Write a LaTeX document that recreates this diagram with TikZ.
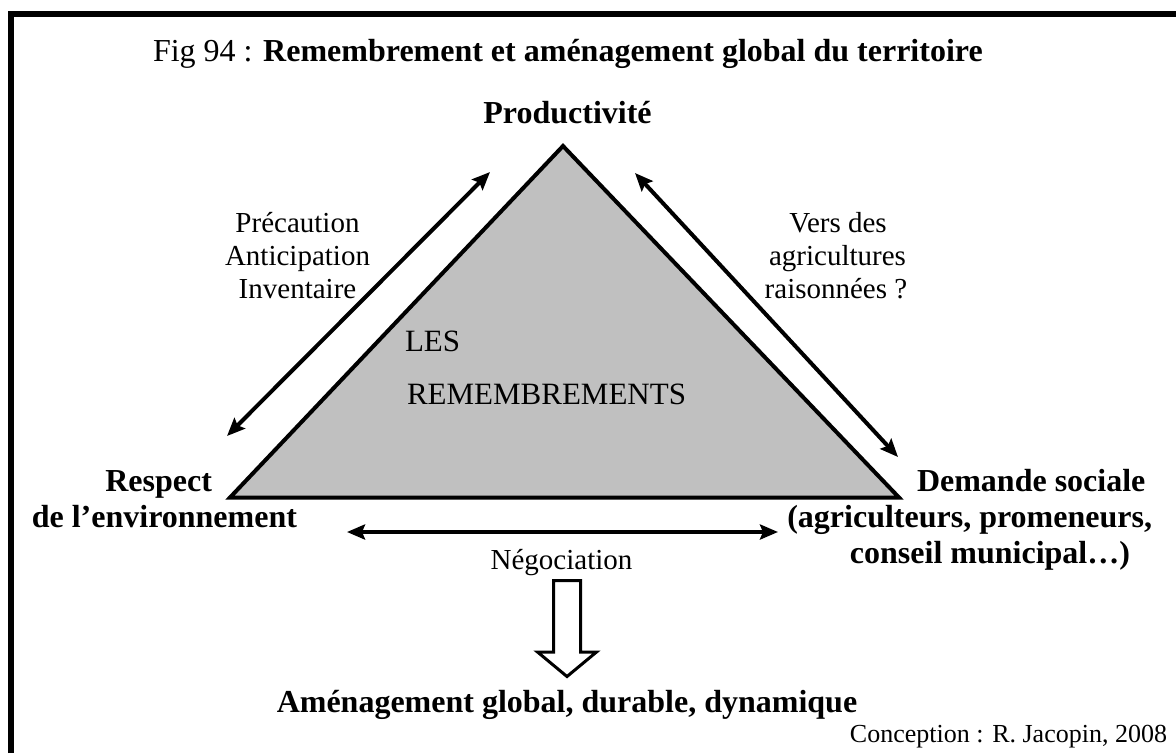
\documentclass[tikz,border=0pt]{standalone}
\usepackage{fontspec}
\setmainfont{Liberation Serif}
\usetikzlibrary{arrows.meta}
\definecolor{trigray}{HTML}{C0C0C0}
\begin{document}
\begin{tikzpicture}[x=1pt,y=-1pt,
  txt/.style={inner sep=0pt,outer sep=0pt},
  big/.style={txt,font=\fontsize{32}{36}\selectfont\bfseries},
  small/.style={txt,font=\fontsize{29}{33}\selectfont},
  dblarrow/.style={line width=4pt,{Stealth[length=18pt,width=15pt,inset=3pt]}-{Stealth[length=18pt,width=15pt,inset=3pt]}},
  blockarrow/.style={line width=3pt,line join=miter,fill=white}
]
\useasboundingbox (0,0) rectangle (1176,753);
% frame
\draw[line width=6pt,line join=miter] (10.5,753) -- (10.5,14) -- (1176,14);
% title
\node[txt,anchor=base west,font=\fontsize{32}{36}\selectfont] (title) at (153,61) {Fig 94 : \textbf{Remembrement et aménagement global du territoire}};
% triangle
\coordinate (apex) at (563,146);
\coordinate (lc) at (230,497.5);
\coordinate (rc) at (899,497.5);
\draw[line width=4pt,line join=miter,fill=trigray] (apex) -- (lc) -- (rc) -- cycle;
\node[txt,anchor=base west,font=\fontsize{31}{36}\selectfont] (les) at (405,351) {LES};
\node[txt,anchor=base west,font=\fontsize{31}{36}\selectfont] (remb) at (407,404) {REMEMBREMENTS};
% corner labels
\node[big,anchor=base] (prod) at (567.5,123) {Productivité};
\node[big,anchor=base east] (resp1) at (212,491) {Respect};
\node[big,anchor=base east] (resp2) at (297,527) {de l’environnement};
\node[big,anchor=base west] (dem1) at (917,491) {Demande sociale};
\node[big,anchor=base east] (dem2) at (1152,527) {(agriculteurs, promeneurs,};
\node[big,anchor=base east] (dem3) at (1130,563) {conseil municipal…)};
% side arrows
\coordinate (la1) at (227,436);
\coordinate (la2) at (490,172);
\draw[dblarrow] (la1) -- (la2);
\coordinate (ra1) at (635,173);
\coordinate (ra2) at (898,457);
\draw[dblarrow] (ra1) -- (ra2);
\coordinate (na1) at (347,532);
\coordinate (na2) at (778,532);
\draw[dblarrow] (na1) -- (na2);
% side labels
\node[small,anchor=base] (pl1) at (297.5,232) {Précaution};
\node[small,anchor=base] (pl2) at (297.5,265) {Anticipation};
\node[small,anchor=base] (pl3) at (297.5,298) {Inventaire};
\node[small,anchor=base] (vl1) at (838,232) {Vers des};
\node[small,anchor=base] (vl2) at (837.5,265) {agricultures};
\node[small,anchor=base] (vl3) at (836,298) {raisonnées ?};
\node[small,anchor=base] (neg) at (561.5,569) {Négociation};
% block arrow
\draw[blockarrow] (553.5,580.5) -- (580.5,580.5) -- (580.5,652) -- (596.5,652) -- (567,676.5) -- (537.5,652) -- (553.5,652) -- cycle;
\node[big,anchor=base] (amen) at (567,712) {Aménagement global, durable, dynamique};
\node[txt,anchor=base east,font=\fontsize{26}{30}\selectfont] (conc) at (1167,742) {Conception : R. Jacopin, 2008};
\end{tikzpicture}
\end{document}
